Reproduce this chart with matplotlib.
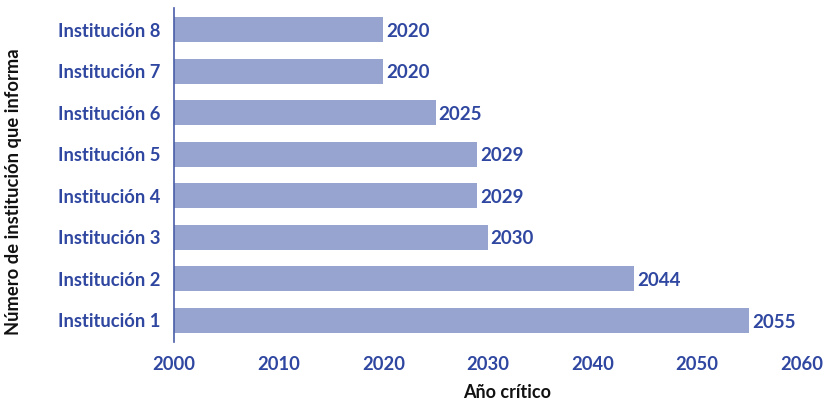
import matplotlib
matplotlib.use("Agg")
from matplotlib import pyplot as plt

# instituciones y año crítico informado
instituciones = ['Institución 1', 'Institución 2', 'Institución 3', 'Institución 4',
                 'Institución 5', 'Institución 6', 'Institución 7', 'Institución 8']
anio_critico = [2055, 2044, 2030, 2029, 2029, 2025, 2020, 2020]
ticks_x = [2000, 2010, 2020, 2030, 2040, 2050, 2060]

BAR_COLOR = '#96a4cf'
BLUE = '#2f47a0'

plt.rcParams['font.family'] = ['Lato', 'DejaVu Sans']

fig = plt.figure(figsize=(8.37, 4.03), dpi=100)
ax = fig.add_axes([0.2079, 0.1514, 0.750, 0.829])

base = ticks_x[0]
y_pos = list(range(len(instituciones)))
widths = [a - base for a in anio_critico]
ax.barh(y_pos, widths, left=base, height=0.6, color=BAR_COLOR)

for y, a in zip(y_pos, anio_critico):
    ax.text(a + 0.25, y - 0.04, str(a), va='center', ha='left',
            fontsize=13.5, fontweight='bold', color=BLUE)

ax.set_xlim(ticks_x[0], ticks_x[-1])
ax.set_ylim(-0.52, 7.52)
ax.set_xticks(ticks_x)
ax.set_yticks(y_pos)
ax.set_yticklabels(instituciones)
ax.tick_params(axis='both', length=0, labelsize=13.2, labelcolor=BLUE)
ax.tick_params(axis='y', pad=10)
ax.tick_params(axis='x', pad=10)
for lab in ax.get_xticklabels() + ax.get_yticklabels():
    lab.set_fontweight('bold')

for side in ['top', 'right', 'bottom']:
    ax.spines[side].set_visible(False)
ax.spines['left'].set_color('#4a5ca8')
ax.spines['left'].set_linewidth(1.2)

ax.set_xlabel('Año crítico', fontsize=13, fontweight='bold', color='#111111')
ax.xaxis.set_label_coords(0.53, -0.125)
ax.set_ylabel('Número de institución que informa', fontsize=13.2,
              fontweight='bold', color='#111111')
ax.yaxis.set_label_coords(-0.242, 0.45)

fig.savefig('out.png', dpi=100)
